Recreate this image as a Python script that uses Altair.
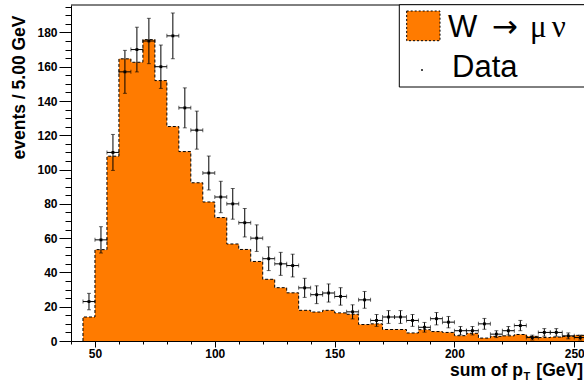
import altair as alt
import pandas as pd
import numpy as np

# ---- data (5 GeV bins, lower edges) ----
bin_low = list(range(45, 255, 5))
mc_values = [14.0, 53.3, 107.8, 164.6, 162.6, 175.8, 151.9, 125.1, 110.5, 92.3,
             81.1, 72.0, 56.6, 53.4, 46.4, 36.0, 31.1, 28.1, 17.9, 16.9,
             17.9, 16.4, 15.6, 9.6, 10.0, 6.7, 6.7, 4.7, 6.6, 5.5,
             5.0, 3.1, 4.5, 1.7, 2.7, 3.0, 3.8, 2.7, 2.0, 2.3,
             2.7, 3.3]
data_counts = [23, 59, 110, 157, 170, 175, 160, 178, 136, 123,
               98, 84, 80, 69, 60, 48, 45, 44, 31, 27,
               28, 26, 17, 24, 12, 14, 14, 12, 8, 13,
               11, 6, 6, 10, 4, 6, 9, 2, 5, 5,
               3, 2]
bin_width = 5
x_major = [50, 100, 150, 200, 250]
x_minor = list(range(40, 260, 10))
y_major = list(range(0, 200, 20))
y_minor = list(range(0, 200, 5))

ORANGE = "#ff7b00"
FONT = "Liberation Sans"

df = pd.DataFrame({
    "lo": bin_low,
    "hi": [b + bin_width for b in bin_low],
    "center": [b + bin_width / 2 for b in bin_low],
    "mc": mc_values,
    "n": data_counts,
})
df["err_lo"] = df["n"] - np.sqrt(df["n"])
df["err_hi"] = df["n"] + np.sqrt(df["n"])

step_df = pd.DataFrame({
    "x": [bin_low[0]] + bin_low + [bin_low[-1] + bin_width],
    "y": [0] + mc_values + [mc_values[-1]],
})

W, H = 513, 336
x_scale = alt.Scale(domain=[40, 254.06], nice=False, zero=False)
y_scale = alt.Scale(domain=[0, 196], nice=False, zero=True)

common = dict(grid=False, tickColor="black", tickWidth=1, labelFont=FONT,
              labelFontSize=12, labelFontWeight="bold", labelColor="black",
              labelFlush=False, labelOverlap=False)

x_axis_major = alt.Axis(orient="bottom", values=x_major, title=None, tickSize=6,
                        domain=True, domainColor="black", domainWidth=1,
                        labelPadding=1, **common)
x_axis_minor = alt.Axis(orient="bottom", values=x_minor, title=None, tickSize=3,
                        domain=False, labels=False, **common)
y_axis_major = alt.Axis(
    orient="left", values=y_major, tickSize=12, domain=True, domainColor="black",
    domainWidth=1, labelPadding=2, **common,
    title="events / 5.00 GeV", titleFont=FONT, titleFontSize=17.5, titleFontWeight="bold",
    titleColor="black", titleAngle=270, titleAlign="right", titleBaseline="middle",
    titleX=-51.5, titleY=10,
)
y_axis_minor = alt.Axis(orient="left", values=y_minor, title=None, tickSize=6,
                        domain=False, labels=False, **common)

base = alt.Chart(df)

fill = alt.Chart(step_df).mark_area(interpolate="step-after", color=ORANGE, clip=True).encode(
    x=alt.X("x:Q", scale=x_scale, axis=x_axis_major),
    y=alt.Y("y:Q", scale=y_scale, axis=y_axis_major),
)
outline = alt.Chart(step_df).mark_line(
    interpolate="step-after", color="black", strokeWidth=1, strokeDash=[3, 2], clip=True
).encode(x=alt.X("x:Q", scale=x_scale, axis=x_axis_minor),
         y=alt.Y("y:Q", scale=y_scale, axis=y_axis_minor))

NOAX = dict(axis=None)
vbars = base.mark_rule(color="black", strokeWidth=1, clip=True).encode(
    x=alt.X("center:Q", scale=x_scale, **NOAX), y=alt.Y("err_lo:Q", scale=y_scale, **NOAX), y2="err_hi:Q")
hbars = base.mark_rule(color="black", strokeWidth=1, clip=True).encode(
    x=alt.X("lo:Q", scale=x_scale, **NOAX), x2="hi:Q", y=alt.Y("n:Q", scale=y_scale, **NOAX))
cap_hi = base.mark_tick(orient="horizontal", size=4, thickness=1, color="black", opacity=0.6, clip=True).encode(
    x=alt.X("center:Q", scale=x_scale, **NOAX), y=alt.Y("err_hi:Q", scale=y_scale, **NOAX))
cap_lo = base.mark_tick(orient="horizontal", size=4, thickness=1, color="black", opacity=0.6, clip=True).encode(
    x=alt.X("center:Q", scale=x_scale, **NOAX), y=alt.Y("err_lo:Q", scale=y_scale, **NOAX))
cap_l = base.mark_tick(orient="vertical", size=4, thickness=1, color="black", opacity=0.6, clip=True).encode(
    x=alt.X("lo:Q", scale=x_scale, **NOAX), y=alt.Y("n:Q", scale=y_scale, **NOAX))
cap_r = base.mark_tick(orient="vertical", size=4, thickness=1, color="black", opacity=0.6, clip=True).encode(
    x=alt.X("hi:Q", scale=x_scale, **NOAX), y=alt.Y("n:Q", scale=y_scale, **NOAX))
markers = base.mark_square(size=8, color="black", opacity=1, clip=True).encode(
    x=alt.X("center:Q", scale=x_scale, **NOAX), y=alt.Y("n:Q", scale=y_scale, **NOAX))

one = pd.DataFrame({"a": [0]})
top_line = alt.Chart(one).mark_rule(color="black", strokeWidth=1).encode(
    y=alt.value(0), x=alt.value(0), x2=alt.value(W + 2))

# legend (drawn as annotation)
leg_box = alt.Chart(one).mark_rect(fill="white", stroke="black", strokeWidth=1).encode(
    x=alt.value(328.3), x2=alt.value(W + 2), y=alt.value(-0.3), y2=alt.value(82))
leg_sq = alt.Chart(one).mark_rect(fill=ORANGE, stroke="black", strokeWidth=1, strokeDash=[2, 2]).encode(
    x=alt.value(335.7), x2=alt.value(369), y=alt.value(6), y2=alt.value(35.7))

def txt(s, x, y, size, font=FONT, weight="normal", align="left", baseline="alphabetic"):
    return alt.Chart(pd.DataFrame({"t": [s]})).mark_text(
        font=font, fontSize=size, fontWeight=weight, align=align, baseline=baseline, color="black"
    ).encode(x=alt.value(x), y=alt.value(y), text="t:N")

leg_w = txt("W", 377, 31.7, 31)
leg_arrow = txt("\u2192", 420.7, 31.7, 31, font="DejaVu Sans")
leg_mu = txt("\u03bc", 459, 31.7, 31, font="Liberation Serif")
leg_nu = txt("\u03bd", 480.7, 31.7, 31, font="Liberation Serif")
leg_data = txt("Data", 381, 72, 31)
leg_dot = alt.Chart(one).mark_square(size=4, color="black").encode(
    x=alt.value(351), y=alt.value(65))

# x-axis title with subscript
xt1 = txt("sum of p", 379, H + 35, 17.5, weight="bold")
xt2 = txt("T", 452.5, H + 39, 11, weight="bold")
xt3 = txt("[GeV]", 512, H + 35, 17.5, weight="bold", align="right")

chart = alt.layer(
    fill, outline, vbars, hbars, cap_hi, cap_lo, cap_l, cap_r, markers,
    top_line, leg_box, leg_sq, leg_w, leg_arrow, leg_mu, leg_nu, leg_data, leg_dot,
    xt1, xt2, xt3,
).resolve_axis(x="independent", y="independent").properties(
    width=W, height=H,
    autosize=alt.AutoSizeParams(type="none"),
    padding={"left": 71, "top": 5, "right": 0, "bottom": 43},
    background="white",
).configure_view(stroke=None)

chart.save("out.html", embed_options={"renderer": "svg", "actions": False})
